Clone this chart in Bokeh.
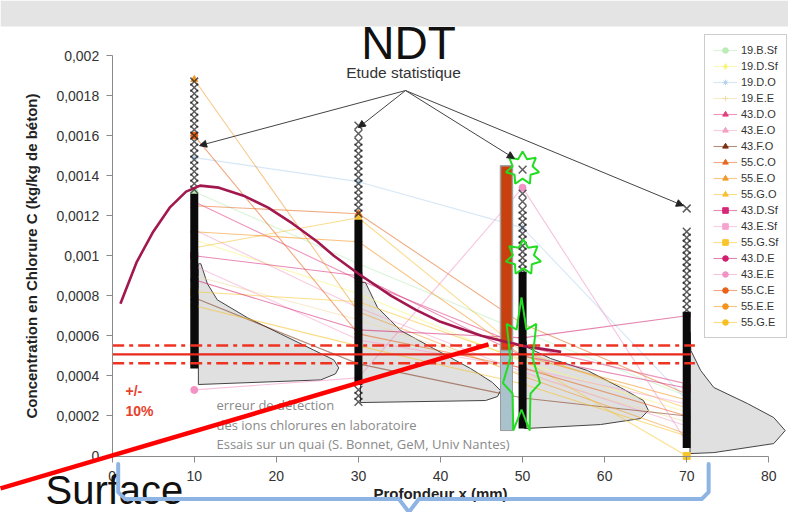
import math
from bokeh.plotting import figure
from bokeh.models import (Range1d, FixedTicker, CustomJSTickFormatter, Label, Arrow, NormalHead,
                          ColumnDataSource, Legend, LegendItem, BoxAnnotation)
from bokeh.core.properties import value
from bokeh.embed import file_html
from bokeh.resources import INLINE

# ---------------- data ----------------
depth = [10, 30, 50, 70]

v_19BSf = [0.00132, 0.00096, 0.00062, 0.00030]
v_19DSf = [0.00108, 0.00081, 0.00047, 0.00022]
v_19DO = [0.00149, 0.00137, 0.00114, 0.00028]
v_19EE = [0.00090, 0.00068, 0.00041, 0.00017]
v_43DO = [0.00127, 0.00088, 0.00055, 0.00036]
v_43EO = [0.00113, 0.00074, 0.00042, 0.00015]
v_43FO = [0.00079, 0.00046, 0.00029, 0.00020]
v_55CO = [0.00125, 0.00121, 0.00066, 0.00031]
v_55EO = [0.00188, 0.00072, 0.00040, 0.00011]
v_55GO = [0.00104, 0.00119, 0.00052, 0.00024]
v_43DSf = [0.00100, 0.00090, 0.00050, 0.00034]
v_43ESf = [0.00095, 0.00058, 0.00044, 0.00026]
v_55GSf = [0.00082, 0.00077, 0.00048, 0.00000]
v_43DE = [0.00088, 0.00063, 0.00059, 0.00070]
v_43EE = [0.00033, 0.00039, 0.00134, 0.00007]
v_55CE = [0.00160, 0.00061, 0.00044, 0.00020]
v_55EE = [0.00112, 0.00107, 0.00050, 0.00028]
v_55GE = [0.00075, 0.00055, 0.00036, 0.00010]

series_labels = ["19.B.Sf", "19.D.Sf", "19.D.O", "19.E.E", "43.D.O", "43.E.O", "43.F.O",
                 "55.C.O", "55.E.O", "55.G.O", "43.D.Sf", "43.E.Sf", "55.G.Sf",
                 "43.D.E", "43.E.E", "55.C.E", "55.E.E", "55.G.E"]
series_values = [v_19BSf, v_19DSf, v_19DO, v_19EE, v_43DO, v_43EO, v_43FO,
                 v_55CO, v_55EO, v_55GO, v_43DSf, v_43ESf, v_55GSf,
                 v_43DE, v_43EE, v_55CE, v_55EE, v_55GE]
series_colors = ["#b9ecb9", "#f5f57a", "#b4d4f0", "#efdca0", "#e0407f", "#f2a0c4", "#7b3010",
                 "#e46a1e", "#f09a2a", "#f6c031", "#d6287a", "#f5a3cf", "#f8c52a",
                 "#cf1f6e", "#f392c4", "#e8621a", "#f3921c", "#f7bf20"]
series_markers = ["circle", "diamond", "asterisk", "cross", "triangle", "triangle", "triangle",
                  "triangle", "triangle", "triangle", "square", "square", "square",
                  "circle", "circle", "circle", "circle", "circle"]

# statistical study columns (x markers)
col_x = [10, 30, 50, 70]
col_dense_lo = [0.000437, 0.000355, 0.000137, 0.00004]
col_dense_hi = [0.00131, 0.00118, 0.00092, 0.00072]
col10_sparse = [0.00187, 0.00184, 0.00181, 0.00178, 0.00175, 0.00172, 0.00169, 0.00166, 0.00163,
                0.00160, 0.00157, 0.00154, 0.00151, 0.00148, 0.00145, 0.00142, 0.00139, 0.00136, 0.00133]
col30_sparse = [0.00165, 0.00161, 0.00157, 0.00154, 0.00151, 0.00148, 0.00145, 0.00142, 0.00139,
                0.00136, 0.00133, 0.00130, 0.00127, 0.00124, 0.00121, 0.00033, 0.00030, 0.00027]
col50_sparse = [0.00143, 0.00131, 0.00127, 0.00123, 0.00120, 0.00117, 0.00114, 0.00111, 0.00108,
                0.00105, 0.00102, 0.00099, 0.00096, 0.00093]
col70_sparse = [0.001236, 0.00112, 0.00109, 0.00106, 0.00103, 0.00100, 0.00097, 0.00094, 0.00091,
                0.00088, 0.00085, 0.00082, 0.00079, 0.00076, 0.00073]

# distribution shapes
shape10_x = [10.5, 10.8, 11.6, 12.8, 16.5, 20.5, 24.5, 27.0, 27.6, 27.2, 25.4, 10.5]
shape10_y = [0.00096, 0.00096, 0.00086, 0.00078, 0.00069, 0.00061, 0.00053, 0.00048, 0.00044,
             0.00041, 0.00038, 0.000357]
shape30_x = [30.25, 30.86, 32.32, 35.13, 39.15, 43.66, 46.34, 47.31, 46.95, 45.49, 30.25]
shape30_y = [0.000866, 0.000866, 0.000742, 0.000627, 0.000537, 0.000437, 0.000367, 0.000327,
             0.000297, 0.000277, 0.000267]
shape50_x = [50.24, 50.6, 53.4, 57.9, 61.93, 64.73, 65.34, 64.37, 59.49, 50.24]
shape50_y = [0.000602, 0.000542, 0.000487, 0.000427, 0.000342, 0.000277, 0.000227, 0.000187,
             0.000157, 0.000137]
shape70_x = [70.4, 70.5, 71.7, 73.3, 77.4, 80.6, 82.0, 80.6, 73.3, 70.4]
shape70_y = [0.00062, 0.000527, 0.000427, 0.000342, 0.000262, 0.000192, 0.000127, 0.000062,
             0.000017, 0.000012]

# fitted curve
curve_x = [1, 3, 5, 7, 9, 10.7, 13, 16, 19, 22, 25, 27, 30, 34, 37, 40, 45, 50, 54.7]
curve_y = [0.00076, 0.00097, 0.00112, 0.00124, 0.00132, 0.00135, 0.00134, 0.0013, 0.00124,
           0.00116, 0.00107, 0.001, 0.00091, 0.0008, 0.00073, 0.00067, 0.0006, 0.00055, 0.00052]

# mean level and +/-10 % band
mean_x = [0, 70.5]
mean_level = [0.000507, 0.000507]
band_x = [0, 71.0]
band_upper = [0.000552, 0.000552]
band_lower = [0.000463, 0.000463]

# measurement bar near 48 mm
bar_left = [47.31]
bar_right = [48.77]
bar_red_lo = [0.000527]
bar_red_hi = [0.00145]
bar_blue_lo = [0.000127]
bar_blue_hi = [0.000527]

# green stars
star_cx = [50.0, 50.1, 49.87]
star_cy = [0.001436, 0.000991, 0.000442]
star_rx_px = [17, 18, 19]
star_ry_px = [17, 18, 70]

# arrows "Etude statistique"
arrow_x0 = [35.74, 35.74, 35.74, 35.74]
arrow_y0 = [0.001825, 0.001825, 0.001825, 0.001825]
arrow_x1 = [10.64, 30.0, 49.0, 69.6]
arrow_y1 = [0.00155, 0.00164, 0.001486, 0.00125]

# overlaid slide annotations
slash_x = [-13.6, 45.85]
slash_y = [-0.000162, 0.000557]
brace_x = [0.73, 0.73, 1.59, 34.93, 36.15, 37.37, 71.82, 72.67, 72.67]
brace_y = [-0.00004, -0.00018, -0.000215, -0.000215, -0.00028, -0.000215, -0.000215, -0.00018, -0.00004]

x_ticks = [0, 10, 20, 30, 40, 50, 60, 70, 80]
y_ticks = [0, 0.0002, 0.0004, 0.0006, 0.0008, 0.001, 0.0012, 0.0014, 0.0016, 0.0018, 0.002]

# ---------------- layout ----------------
W, H = 788, 512
X0_PX, PX_PER_X = 111.7, 8.2075      # picture pixel of x=0, pixels per mm
Y0_PX, PX_PER_Y = 455.5, 200250.0    # picture pixel of y=0, pixels per unit

x_range = Range1d((0 - X0_PX) / PX_PER_X, (W - X0_PX) / PX_PER_X)
y_range = Range1d((Y0_PX - H) / PX_PER_Y, (Y0_PX - 0) / PX_PER_Y)

def px_x(px):
    return (px - X0_PX) / PX_PER_X

def px_y(py):
    return (Y0_PX - py) / PX_PER_Y

p = figure(width=W, height=H, x_range=x_range, y_range=y_range, output_backend="svg",
           toolbar_location=None, min_border=0, background_fill_color="white",
           border_fill_color="white", outline_line_color=None)
p.grid.visible = False

FONT = "Liberation Sans"

# axes placed at data origin
xa = p.xaxis[0]
ya = p.yaxis[0]
xa.fixed_location = 0
ya.fixed_location = 0
xa.bounds = (0, 80)
ya.bounds = (0, 0.002)
xa.ticker = FixedTicker(ticks=x_ticks)
ya.ticker = FixedTicker(ticks=y_ticks)
ya.formatter = CustomJSTickFormatter(code="""
    let s = tick.toFixed(4).replace(/0+$/, '').replace(/\\.$/, '');
    return s.replace('.', ',');
""")
for ax in (xa, ya):
    ax.axis_line_color = "#8a8a8a"
    ax.major_tick_line_color = "#8a8a8a"
    ax.major_tick_out = 6
    ax.major_tick_in = 0
    ax.minor_tick_line_color = None
    ax.major_label_text_font = FONT
    ax.major_label_text_font_size = "14px"
    ax.major_label_text_color = "#333333"
    ax.axis_label_text_font = FONT
    ax.axis_label_text_font_size = "15px"
    ax.axis_label_text_font_style = "bold"
    ax.axis_label_text_color = "#222222"
xa.major_label_standoff = 9
ya.major_label_standoff = 7
xa.axis_label = "Profondeur x (mm)"
ya.axis_label = "Concentration en Chlorure C (kg/kg de béton)"
xa.axis_label_standoff = 0
ya.axis_label_standoff = 14

# slide top band
p.add_layout(BoxAnnotation(bottom=px_y(26), fill_color="#e4e4e4", fill_alpha=1.0,
                           line_color=None, level="underlay"))

# distribution shapes
p.patches(xs=[shape10_x, shape30_x, shape50_x, shape70_x],
          ys=[shape10_y, shape30_y, shape50_y, shape70_y],
          fill_color="#d8d8d8", fill_alpha=0.8, line_color="#444444", line_width=1)

# series lines and markers
items = []
for lab, vals, col, mk in zip(series_labels, series_values, series_colors, series_markers):
    lr = p.line(depth, vals, line_color=col, line_width=1.1, line_alpha=0.55)
    sr = p.scatter(depth, vals, marker=mk, size=7, fill_color=col, line_color=col)
    items.append(LegendItem(label=lab, renderers=[lr, sr]))

# measurement bar
p.quad(left=bar_left, right=bar_right, bottom=bar_blue_lo, top=bar_blue_hi,
       fill_color="#a9c2cb", line_color="#9a9a9a", line_width=1)
p.quad(left=bar_left, right=bar_right, bottom=bar_red_lo, top=bar_red_hi,
       fill_color="#c8400e", line_color="#a0a0a0", line_width=1.5)

# statistical study columns
p.segment(x0=col_x, y0=col_dense_lo, x1=col_x, y1=col_dense_hi, line_color="#0a0a0a", line_width=8)
for cx, ys in zip(col_x, [col10_sparse, col30_sparse, col50_sparse, col70_sparse]):
    p.scatter([cx] * len(ys), ys, marker="x", size=11, line_color="#1a1a1a",
              line_alpha=0.7, line_width=1.5)

# fitted curve
p.line(curve_x, curve_y, line_color="#a3174f", line_width=2.6)

# mean and band
p.line(mean_x, mean_level, line_color="#e8291c", line_width=2.2)
p.line(band_x, band_upper, line_color="#ee3322", line_width=2.6, line_dash="12 5 4 5")
p.line(band_x, band_lower, line_color="#ee3322", line_width=2.6, line_dash="12 5 4 5")

# green stars
def star_path(cx, cy, rx_px, ry_px, n=7, inner=0.6):
    xs, ys = [], []
    for k in range(2 * n):
        ang = math.pi / 2 + k * math.pi / n
        r = 1.0 if k % 2 == 0 else inner
        xs.append(cx + r * rx_px * math.cos(ang) / PX_PER_X)
        ys.append(cy + r * ry_px * math.sin(ang) / PX_PER_Y)
    return xs, ys

sx, sy = [], []
for cx, cy, rx, ry in zip(star_cx, star_cy, star_rx_px, star_ry_px):
    a, b = star_path(cx, cy, rx, ry)
    sx.append(a)
    sy.append(b)
p.patches(xs=sx, ys=sy, fill_alpha=0, line_color="#22dd22", line_width=2)

# arrows
arrow_src = ColumnDataSource(dict(x0=arrow_x0, y0=arrow_y0, x1=arrow_x1, y1=arrow_y1))
p.add_layout(Arrow(end=NormalHead(size=7, fill_color="#222222", line_color="#222222"),
                   source=arrow_src, x_start="x0", y_start="y0", x_end="x1", y_end="y1",
                   line_color="#444444", line_width=1))

# texts inside chart
p.text(x=[px_x(403)], y=[px_y(72)], text=["Etude statistique"], text_font=value(FONT),
       text_font_size="15.5px", text_color="#333333", text_align="center", text_baseline="middle")
p.text(x=[px_x(125), px_x(125)], y=[px_y(390), px_y(410)], text=["+/-", "10%"],
       text_font=value(FONT), text_font_size="14px", text_font_style="bold",
       text_color="#e8412c", text_align="left", text_baseline="middle")
p.text(x=[px_x(216)] * 3, y=[px_y(404), px_y(424), px_y(443)],
       text=["erreur de détection", "des ions chlorures en laboratoire",
             "Essais sur un quai (S. Bonnet, GeM, Univ Nantes)"],
       text_font=value("Open Sans"), text_font_size="13px", text_color="#8a8a8a",
       text_align="left", text_baseline="middle")

# slide overlays
p.line(slash_x, slash_y, line_color="#ff0000", line_width=4.5, level="overlay")
p.line(brace_x, brace_y, line_color="#8eb4e3", line_width=4, line_join="round",
       line_cap="round", level="overlay")
p.add_layout(Label(x=px_x(408), y=px_y(42), text="NDT", text_font=FONT, text_font_size="46px",
                   text_color="#111111", text_align="center", text_baseline="alphabetic"))
p.add_layout(Label(x=px_x(45), y=px_y(511), text="Surface", text_font=FONT,
                   text_font_size="40px", text_color="#111111", text_align="left",
                   text_baseline="bottom"))

# legend
legend = Legend(items=items, location=(704, 174), label_text_font=FONT,
                label_text_font_size="11px", label_text_color="#333333",
                label_height=14, glyph_height=14, glyph_width=24, spacing=2, padding=8,
                margin=0, label_standoff=4, border_line_color="#9a9a9a",
                background_fill_color="white", background_fill_alpha=1.0)
p.add_layout(legend)

open("out.html", "w").write(file_html(p, INLINE))
